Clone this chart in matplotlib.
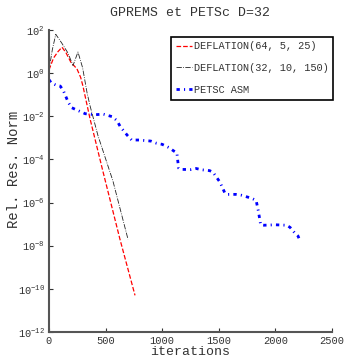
import numpy as np
import matplotlib
matplotlib.use('Agg')
import matplotlib.pyplot as plt

plt.rcParams['font.family'] = ['Liberation Mono', 'DejaVu Sans Mono']
plt.rcParams['text.color'] = '#333333'
plt.rcParams['axes.labelcolor'] = '#333333'
plt.rcParams['xtick.color'] = '#333333'
plt.rcParams['ytick.color'] = '#333333'

# DEFLATION(64, 5, 25)
it_d64 = [0, 40, 80, 115, 150, 194, 247, 280, 300, 362, 474, 627, 760]
lg_d64 = [0.15, 0.7, 1.0, 1.2, 0.95, 0.5, 0.2, -0.2, -0.6, -2.1, -4.5, -7.7, -10.3]

# DEFLATION(32, 10, 150)
it_d32 = [0, 30, 60, 112, 168, 212, 256, 297, 336, 362, 433, 565, 698]
lg_d32 = [0.15, 1.1, 1.8, 1.4, 0.93, 0.35, 0.98, 0.25, -0.9, -1.5, -2.9, -5.0, -7.7]

# PETSC ASM
it_asm = [0, 20, 60, 100, 130, 170, 200, 250, 320, 400, 480, 560, 600, 630, 690,
          730, 800, 900, 950, 1000, 1060, 1100, 1130, 1145, 1160, 1250, 1300,
          1350, 1420, 1450, 1510, 1555, 1580, 1650, 1700, 1790, 1830, 1850,
          1870, 1900, 2000, 2100, 2130, 2170, 2200, 2220]
lg_asm = [-0.3, -0.45, -0.55, -0.6, -0.85, -1.35, -1.6, -1.72, -1.88, -1.93,
          -1.9, -2.02, -2.2, -2.48, -2.87, -3.1, -3.1, -3.15, -3.25, -3.3,
          -3.45, -3.6, -3.7, -4.4, -4.46, -4.47, -4.42, -4.48, -4.52, -4.6,
          -5.05, -5.57, -5.62, -5.62, -5.66, -5.8, -5.9, -6.4, -7.03, -7.05,
          -7.03, -7.05, -7.15, -7.4, -7.55, -7.8]

fig = plt.figure(figsize=(3.44, 3.61), dpi=100)
ax = fig.add_axes([0.1424, 0.0803, 0.8226, 0.8366])

ax.semilogy(it_d64, 10.0**np.array(lg_d64), color='red', ls='--', lw=0.9,
            label='DEFLATION(64, 5, 25)')
ax.semilogy(it_d32, 10.0**np.array(lg_d32), color='#222222', ls='-.', lw=0.6,
            label='DEFLATION(32, 10, 150)')
ax.semilogy(it_asm, 10.0**np.array(lg_asm), color='blue', lw=2.0,
            ls=(0, (1.2, 1.5, 0.4, 1.5)), label='PETSC ASM')

ax.set_xlim(0, 2500)
ax.set_ylim(1e-12, 1e2)
ax.set_xticks([0, 500, 1000, 1500, 2000, 2500])
ax.set_yticks([10.0**k for k in range(-12, 3, 2)])
ax.minorticks_off()
ax.tick_params(axis='both', direction='in', length=3, width=0.8,
               labelsize=7.5, pad=3)
for s in ['top', 'right']:
    ax.spines[s].set_visible(False)
for s in ['left', 'bottom']:
    ax.spines[s].set_color('#555555')
    ax.spines[s].set_linewidth(1.5)

ax.set_title('GPREMS et PETSc D=32', fontsize=9.5, pad=10)
ax.set_xlabel('iterations', fontsize=9.5, labelpad=0)
ax.set_ylabel('Rel. Res. Norm', fontsize=10)
ax.yaxis.set_label_coords(-0.10, 0.54)

leg = ax.legend(loc='upper right', bbox_to_anchor=(1.004, 0.978), fontsize=7.4,
                fancybox=False, framealpha=1, edgecolor='black',
                handlelength=1.6, handletextpad=0.15, borderpad=0.45,
                borderaxespad=0, labelspacing=1.15)
leg.get_frame().set_linewidth(1.2)

fig.savefig('out.png', dpi=100)
